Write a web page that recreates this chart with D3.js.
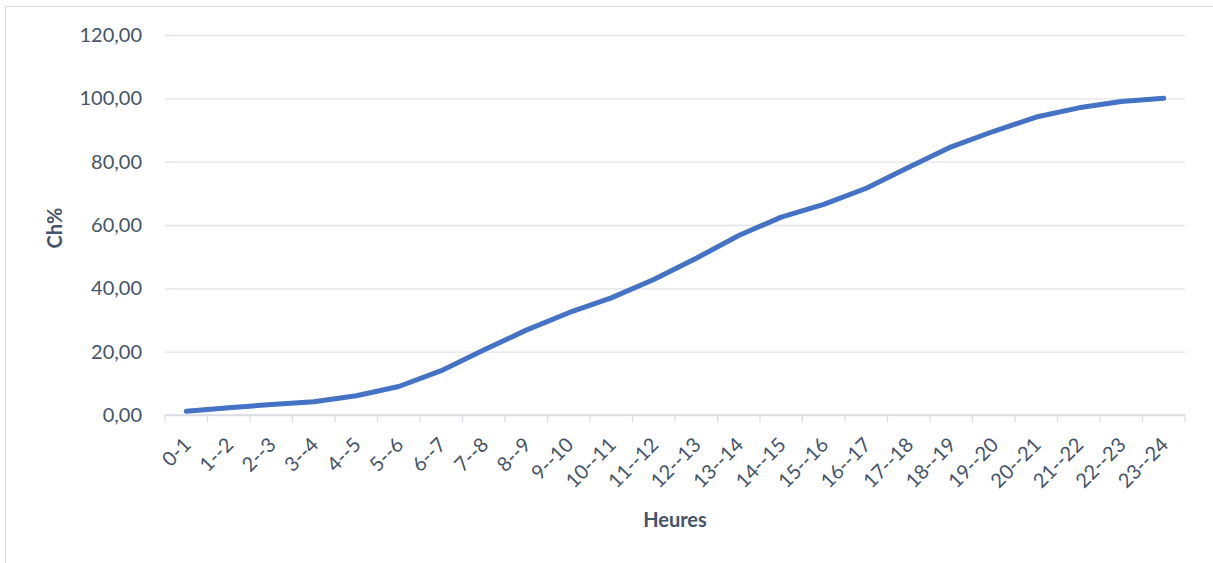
<!DOCTYPE html>
<html>
<head>
<meta charset="utf-8">
<script src="https://cdn.jsdelivr.net/npm/d3@7"></script>
<style>
  body { margin: 0; background: #fff; }
  text { font-family: Lato, "Open Sans", sans-serif; fill: #44546a; }
</style>
</head>
<body>
<div id="chart"></div>
<script>
// Data
const hours = ['0-1', '1--2', '2--3', '3--4', '4--5', '5--6', '6--7', '7--8', '8--9', '9--10',
  '10--11', '11--12', '12--13', '13--14', '14--15', '15--16', '16--17', '17--18', '18--19',
  '19--20', '20--21', '21--22', '22--23', '23--24'];
const chPct = [1.2, 2.3, 3.3, 4.2, 6.1, 9.0, 14.0, 20.5, 26.8, 32.3, 37.0, 42.8, 49.5, 56.7,
  62.5, 66.5, 71.6, 78.2, 84.7, 89.6, 94.1, 97.0, 99.0, 100.0];
const yTicks = [0, 20, 40, 60, 80, 100, 120];

const width = 1213, height = 563;
const margin = { top: 35, right: 28, bottom: 148, left: 165 };

const svg = d3.select('#chart')
  .append('svg')
  .attr('width', width)
  .attr('height', height);

// Chart frame
svg.append('rect')
  .attr('x', 5.5).attr('y', 6.5)
  .attr('width', width + 10).attr('height', height + 10)
  .attr('fill', 'none')
  .attr('stroke', '#d9dde3')
  .attr('stroke-width', 1);

const x = d3.scaleBand()
  .domain(hours)
  .range([margin.left, width - margin.right]);

const y = d3.scaleLinear()
  .domain([0, 120])
  .range([height - margin.bottom, margin.top]);

const fmt = v => d3.format('.2f')(v).replace('.', ',');

// Gridlines + y labels
const yAxis = svg.append('g')
  .attr('transform', `translate(${margin.left},0)`)
  .call(d3.axisLeft(y).tickValues(yTicks).tickFormat(fmt)
    .tickSize(-(width - margin.left - margin.right)).tickPadding(23));
yAxis.select('.domain').remove();
yAxis.selectAll('.tick line').attr('stroke', '#dfe3e8').attr('stroke-width', 1.3);
yAxis.selectAll('.tick text').attr('font-size', 20).style('fill', '#44546a');

// X axis with boundary ticks
const xAxisG = svg.append('g')
  .attr('transform', `translate(0,${y(0)})`);
xAxisG.append('line')
  .attr('x1', margin.left).attr('x2', width - margin.right)
  .attr('stroke', '#d9dde3').attr('stroke-width', 1.3);
const bounds = hours.map(h => x(h)).concat([x(hours[hours.length - 1]) + x.bandwidth()]);
xAxisG.selectAll('.bt')
  .data(bounds)
  .enter().append('line')
  .attr('x1', d => d).attr('x2', d => d)
  .attr('y1', 0).attr('y2', 7)
  .attr('stroke', '#d9dde3').attr('stroke-width', 1.3);
xAxisG.selectAll('.xl')
  .data(hours)
  .enter().append('text')
  .attr('font-size', 20)
  .attr('text-anchor', 'end')
  .attr('transform', d => `translate(${x(d) + x.bandwidth() / 2 + 6},${31}) rotate(-45)`)
  .text(d => d);

// Line
const line = d3.line()
  .x((d, i) => x(hours[i]) + x.bandwidth() / 2)
  .y(d => y(d));

svg.append('path')
  .datum(chPct)
  .attr('d', line)
  .attr('fill', 'none')
  .attr('stroke', '#4472c4')
  .attr('stroke-width', 5)
  .attr('stroke-linecap', 'round')
  .attr('stroke-linejoin', 'round');

// Axis titles
svg.append('text')
  .attr('x', (margin.left + width - margin.right) / 2)
  .attr('y', 527)
  .attr('text-anchor', 'middle')
  .attr('font-size', 20)
  .attr('font-weight', 'bold')
  .text('Heures');

svg.append('text')
  .attr('transform', `translate(62,${y(60) + 3}) rotate(-90)`)
  .attr('text-anchor', 'middle')
  .attr('font-size', 20)
  .attr('font-weight', 'bold')
  .text('Ch%');
</script>
</body>
</html>
